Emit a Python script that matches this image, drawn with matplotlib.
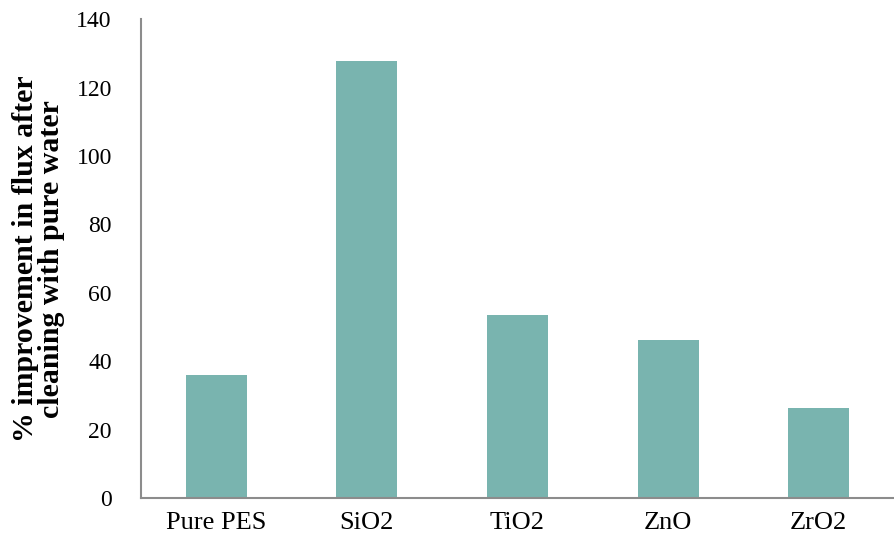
import matplotlib
matplotlib.use("Agg")
import matplotlib.pyplot as plt

# --- Dati ---
categories = ["Pure PES", "SiO2", "TiO2", "ZnO", "ZrO2"]
improvement = [35.9, 127.7, 53.4, 46.3, 26.3]
y_ticks = [0, 20, 40, 60, 80, 100, 120, 140]

bar_color = "#79B4AF"
axis_color = "#8C8C8C"

plt.rcParams["font.family"] = ["Liberation Serif", "DejaVu Serif"]

fig = plt.figure(figsize=(8.94, 5.44), dpi=100)
ax = fig.add_axes([0.1577, 0.0846, 0.8423, 0.88])

x = list(range(len(categories)))
ax.bar(x, improvement, width=0.405, color=bar_color)

ax.set_xlim(-0.5, len(categories) - 0.5)
ax.set_ylim(0, 140)
ax.set_xticks(x)
ax.set_xticklabels(categories, fontsize=19)
ax.set_yticks(y_ticks)
ax.set_yticklabels([str(t) for t in y_ticks], fontsize=17)
ax.tick_params(axis="x", length=0, pad=10)
ax.tick_params(axis="y", length=0, pad=21)

for side in ["top", "right"]:
    ax.spines[side].set_visible(False)
for side in ["left", "bottom"]:
    ax.spines[side].set_color(axis_color)
    ax.spines[side].set_linewidth(1.5)

ax.set_ylabel("% improvement in flux after\ncleaning with pure water",
              fontsize=21.5, fontweight="bold", linespacing=0.95, labelpad=8)

fig.savefig("out.png", dpi=100)
plt.close(fig)
